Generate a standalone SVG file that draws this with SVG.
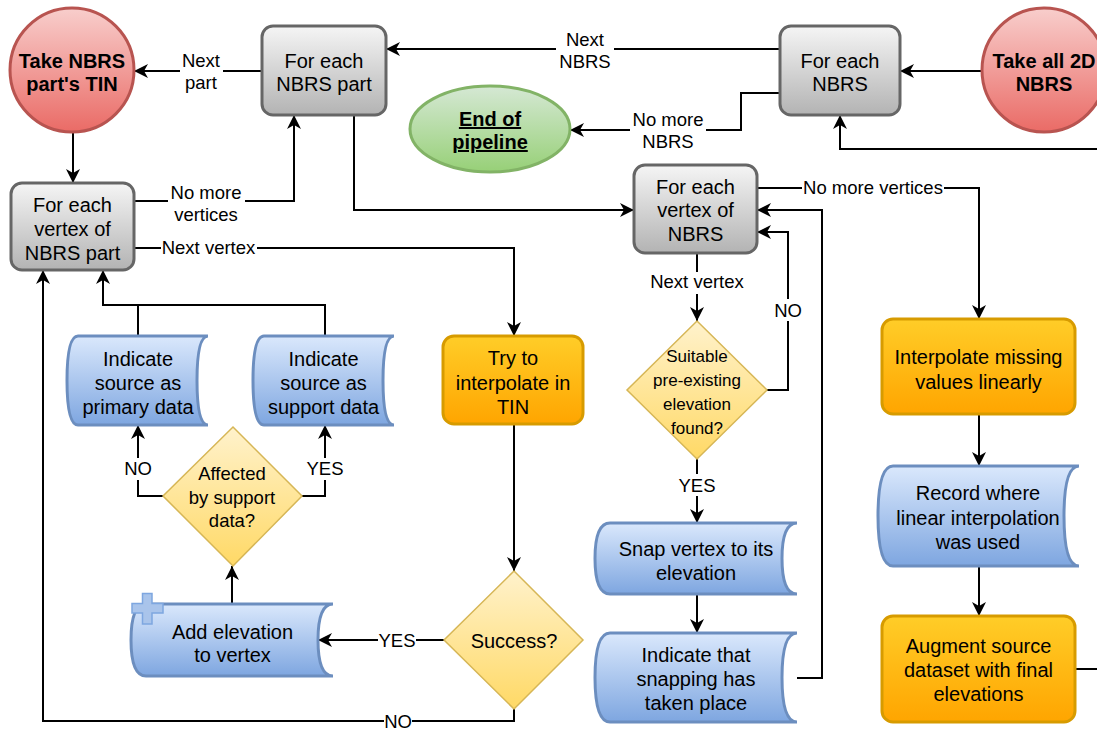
<svg xmlns="http://www.w3.org/2000/svg" width="1097" height="731" viewBox="0 0 1097 731">
  <defs>
    <linearGradient id="gGray" x1="0" y1="0" x2="0" y2="1"><stop offset="0" stop-color="#f5f5f5"/><stop offset="1" stop-color="#b3b3b3"/></linearGradient>
    <linearGradient id="gRed" x1="0" y1="0" x2="0" y2="1"><stop offset="0" stop-color="#f8cecc"/><stop offset="1" stop-color="#ea6b66"/></linearGradient>
    <linearGradient id="gGreen" x1="0" y1="0" x2="0" y2="1"><stop offset="0" stop-color="#d5e8d4"/><stop offset="1" stop-color="#97d077"/></linearGradient>
    <linearGradient id="gOrange" x1="0" y1="0" x2="0" y2="1"><stop offset="0" stop-color="#ffcd28"/><stop offset="1" stop-color="#ffa500"/></linearGradient>
    <linearGradient id="gBlue" x1="0" y1="0" x2="0" y2="1"><stop offset="0" stop-color="#dae8fc"/><stop offset="1" stop-color="#7ea6e0"/></linearGradient>
    <linearGradient id="gYellow" x1="0" y1="0" x2="0" y2="1"><stop offset="0" stop-color="#fff2cc"/><stop offset="1" stop-color="#ffd966"/></linearGradient>
    <marker id="arr" markerUnits="userSpaceOnUse" markerWidth="20" markerHeight="20" viewBox="-16 -10 20 20" refX="0" refY="0" orient="auto">
      <path d="M0,0 L-14,-7 L-10,0 L-14,7 Z" fill="#000"/>
    </marker>
    <style>
      text { font-family: "Liberation Sans", Arial, Helvetica, sans-serif; fill: #000; text-anchor: middle; }
      .t { font-size: 20px; }
      .b { font-size: 20px; font-weight: bold; }
      .lbl { font-size: 18.5px; }
      .sm { font-size: 17px; }
      .gray { fill: url(#gGray); stroke: #666666; stroke-width: 3; }
      .red { fill: url(#gRed); stroke: #b85450; stroke-width: 3; }
      .green { fill: url(#gGreen); stroke: #82b366; stroke-width: 3; }
      .orange { fill: url(#gOrange); stroke: #d79b00; stroke-width: 3; }
      .blue { fill: url(#gBlue); stroke: #6c8ebf; stroke-width: 3; }
      .yellow { fill: url(#gYellow); stroke: #d6b656; stroke-width: 1.5; }
      .edge { fill: none; stroke: #000; stroke-width: 2; }
      .arrow { marker-end: url(#arr); }
      .bg { fill: #fff; }
    </style>
  </defs>

  <rect width="1097" height="731" fill="#fff"/>

  <!-- connectors -->
  <g id="connectors">
    <path class="edge arrow" d="M982,71 L900,71"/>
    <path class="edge arrow" d="M780,49 L386,49"/>
    <path class="edge arrow" d="M780,93 L741,93 L741,130 L570,130"/>
    <path class="edge arrow" d="M1075,669 L1115,669 L1115,149 L840,149 L840,115"/>
    <path class="edge arrow" d="M262,71 L134,71"/>
    <path class="edge arrow" d="M73,132 L73,183"/>
    <path class="edge arrow" d="M134,201 L294,201 L294,115"/>
    <path class="edge arrow" d="M354,115 L354,210 L634,210"/>
    <path class="edge arrow" d="M134,248 L514,248 L514,336"/>
    <path class="edge arrow" d="M514,424 L514,571"/>
    <path class="edge arrow" d="M444,640 L318,640"/>
    <path class="edge arrow" d="M514,709 L514,721 L43,721 L43,270"/>
    <path class="edge arrow" d="M232,604 L232,566"/>
    <path class="edge arrow" d="M163,496 L138,496 L138,425"/>
    <path class="edge arrow" d="M302,496 L325,496 L325,425"/>
    <path class="edge arrow" d="M138,336 L138,305 L103,305 L103,270"/>
    <path class="edge" d="M325,336 L325,305 L103,305"/>
    <path class="edge arrow" d="M757,188 L979,188 L979,319"/>
    <path class="edge arrow" d="M697,253 L697,321"/>
    <path class="edge arrow" d="M767,390 L788,390 L788,232 L757,232"/>
    <path class="edge arrow" d="M797,678 L822,678 L822,210 L757,210"/>
    <path class="edge arrow" d="M697,459 L697,523"/>
    <path class="edge arrow" d="M697,594 L697,633"/>
    <path class="edge arrow" d="M979,414 L979,466"/>
    <path class="edge arrow" d="M979,566 L979,616"/>

    <!-- edge labels -->
    <rect class="bg" x="180" y="50" width="43" height="44"/>
    <text class="lbl" x="201" y="67">Next</text>
    <text class="lbl" x="201" y="89">part</text>

    <rect class="bg" x="556" y="29" width="58" height="44"/>
    <text class="lbl" x="585" y="46">Next</text>
    <text class="lbl" x="585" y="68">NBRS</text>

    <rect class="bg" x="630" y="109" width="76" height="44"/>
    <text class="lbl" x="668" y="126">No more</text>
    <text class="lbl" x="668" y="148">NBRS</text>

    <rect class="bg" x="168" y="181" width="77" height="44"/>
    <text class="lbl" x="206" y="199">No more</text>
    <text class="lbl" x="206" y="221">vertices</text>

    <rect class="bg" x="161" y="238" width="96" height="21"/>
    <text class="lbl" x="208.5" y="254">Next vertex</text>

    <rect class="bg" x="649" y="272" width="96" height="22"/>
    <text class="lbl" x="697" y="288">Next vertex</text>

    <rect class="bg" x="773" y="299" width="30" height="22"/>
    <text class="lbl" x="788" y="317">NO</text>

    <rect class="bg" x="678" y="474" width="38" height="22"/>
    <text class="lbl" x="697" y="492">YES</text>

    <rect class="bg" x="802" y="177" width="142" height="22"/>
    <text class="lbl" x="873" y="194">No more vertices</text>

    <rect class="bg" x="124" y="458" width="28" height="22"/>
    <text class="lbl" x="138" y="475">NO</text>

    <rect class="bg" x="306" y="458" width="38" height="22"/>
    <text class="lbl" x="325" y="475">YES</text>

    <rect class="bg" x="378" y="629" width="38" height="22"/>
    <text class="lbl" x="397" y="647">YES</text>

    <rect class="bg" x="384" y="711" width="28" height="20"/>
    <text class="lbl" x="398" y="728">NO</text>
  </g>

  <!-- nodes -->
  <g id="take-part-tin">
    <circle class="red" cx="72" cy="70" r="62"/>
    <text class="b" x="72" y="68">Take NBRS</text>
    <text class="b" x="72" y="91">part's TIN</text>
  </g>

  <g id="for-each-part">
    <rect class="gray" x="262" y="26" width="124" height="89" rx="11"/>
    <text class="t" x="324" y="68">For each</text>
    <text class="t" x="324" y="91">NBRS part</text>
  </g>

  <g id="for-each-nbrs">
    <rect class="gray" x="780" y="26" width="120" height="89" rx="11"/>
    <text class="t" x="840" y="68">For each</text>
    <text class="t" x="840" y="91">NBRS</text>
  </g>

  <g id="take-all-nbrs">
    <circle class="red" cx="1044" cy="70" r="62"/>
    <text class="b" x="1044" y="68">Take all 2D</text>
    <text class="b" x="1044" y="91">NBRS</text>
  </g>

  <g id="end-of-pipeline">
    <ellipse class="green" cx="490" cy="129" rx="80" ry="43"/>
    <text class="b" x="490" y="126" text-decoration="underline">End of</text>
    <text class="b" x="490" y="149" text-decoration="underline">pipeline</text>
  </g>

  <g id="for-each-vertex-part">
    <rect class="gray" x="11" y="183" width="123" height="87" rx="11"/>
    <text class="t" x="72.5" y="211.5">For each</text>
    <text class="t" x="72.5" y="235.5">vertex of</text>
    <text class="t" x="72.5" y="259.5">NBRS part</text>
  </g>

  <g id="for-each-vertex-nbrs">
    <rect class="gray" x="634" y="165" width="123" height="88" rx="11"/>
    <text class="t" x="695.5" y="193.5">For each</text>
    <text class="t" x="695.5" y="217">vertex of</text>
    <text class="t" x="695.5" y="241">NBRS</text>
  </g>

  <g id="source-primary">
    <path class="blue" d="M78,336 L208,336 Q197,336 197,380.5 Q197,425 208,425 L78,425 Q67,425 67,380.5 Q67,336 78,336 Z"/>
    <text class="t" x="138" y="365.5">Indicate</text>
    <text class="t" x="138" y="389.5">source as</text>
    <text class="t" x="138" y="413.5">primary data</text>
  </g>

  <g id="source-support">
    <path class="blue" d="M264,336 L394,336 Q383,336 383,380.5 Q383,425 394,425 L264,425 Q253,425 253,380.5 Q253,336 264,336 Z"/>
    <text class="t" x="323.5" y="365.5">Indicate</text>
    <text class="t" x="323.5" y="389.5">source as</text>
    <text class="t" x="323.5" y="413.5">support data</text>
  </g>

  <g id="affected-by-support">
    <path class="yellow" d="M233,427 L302,496 L233,566 L163,496 Z"/>
    <text class="lbl" x="232" y="480">Affected</text>
    <text class="lbl" x="232" y="503.5">by support</text>
    <text class="lbl" x="232" y="527">data?</text>
  </g>

  <g id="add-elevation">
    <path class="blue" d="M146,604 L333,604 Q318,604 318,640 Q318,676 333,676 L146,676 Q131,676 131,640 Q131,604 146,604 Z"/>
    <path d="M142.5,593.5 h9.5 v10 h11 v9.5 h-11 v11 h-9.5 v-11 h-10.5 v-9.5 h10.5 Z" fill="#a9c4eb" stroke="#7ea6e0" stroke-width="1.5"/>
    <text class="t" x="232.5" y="638.5">Add elevation</text>
    <text class="t" x="232.5" y="662">to vertex</text>
  </g>

  <g id="try-interpolate">
    <rect class="orange" x="443" y="336" width="140" height="88" rx="11"/>
    <text class="t" x="513" y="365">Try to</text>
    <text class="t" x="513" y="390">interpolate in</text>
    <text class="t" x="513" y="413.5">TIN</text>
  </g>

  <g id="success">
    <path class="yellow" d="M514,571 L583,640 L514,709 L444,640 Z"/>
    <text class="t" x="514" y="647.5">Success?</text>
  </g>

  <g id="suitable-elevation">
    <path class="yellow" d="M697,321 L767,390 L697,459 L627,390 Z"/>
    <text class="sm" x="697" y="362">Suitable</text>
    <text class="sm" x="697" y="386">pre-existing</text>
    <text class="sm" x="697" y="410">elevation</text>
    <text class="sm" x="697" y="434">found?</text>
  </g>

  <g id="snap-vertex">
    <path class="blue" d="M610,523 L797,523 Q782,523 782,558.5 Q782,594 797,594 L610,594 Q595,594 595,558.5 Q595,523 610,523 Z"/>
    <text class="t" x="696" y="556">Snap vertex to its</text>
    <text class="t" x="696" y="579.5">elevation</text>
  </g>

  <g id="snapping-recorded">
    <path class="blue" d="M610,633 L797,633 Q782,633 782,677.5 Q782,722 797,722 L610,722 Q595,722 595,677.5 Q595,633 610,633 Z"/>
    <text class="t" x="696" y="662">Indicate that</text>
    <text class="t" x="696" y="686">snapping has</text>
    <text class="t" x="696" y="709.5">taken place</text>
  </g>

  <g id="interpolate-linearly">
    <rect class="orange" x="882" y="319" width="193" height="95" rx="11"/>
    <text class="t" x="978.5" y="363.5">Interpolate missing</text>
    <text class="t" x="978.5" y="388.5">values linearly</text>
  </g>

  <g id="record-linear">
    <path class="blue" d="M893,466 L1079,466 Q1064,466 1064,516 Q1064,566 1079,566 L893,566 Q878,566 878,516 Q878,466 893,466 Z"/>
    <text class="t" x="978" y="500">Record where</text>
    <text class="t" x="978" y="524.5">linear interpolation</text>
    <text class="t" x="978" y="548.5">was used</text>
  </g>

  <g id="augment-source">
    <rect class="orange" x="882" y="616" width="193" height="106" rx="11"/>
    <text class="t" x="978.5" y="652.5">Augment source</text>
    <text class="t" x="978.5" y="677">dataset with final</text>
    <text class="t" x="978.5" y="700.5">elevations</text>
  </g>
</svg>
